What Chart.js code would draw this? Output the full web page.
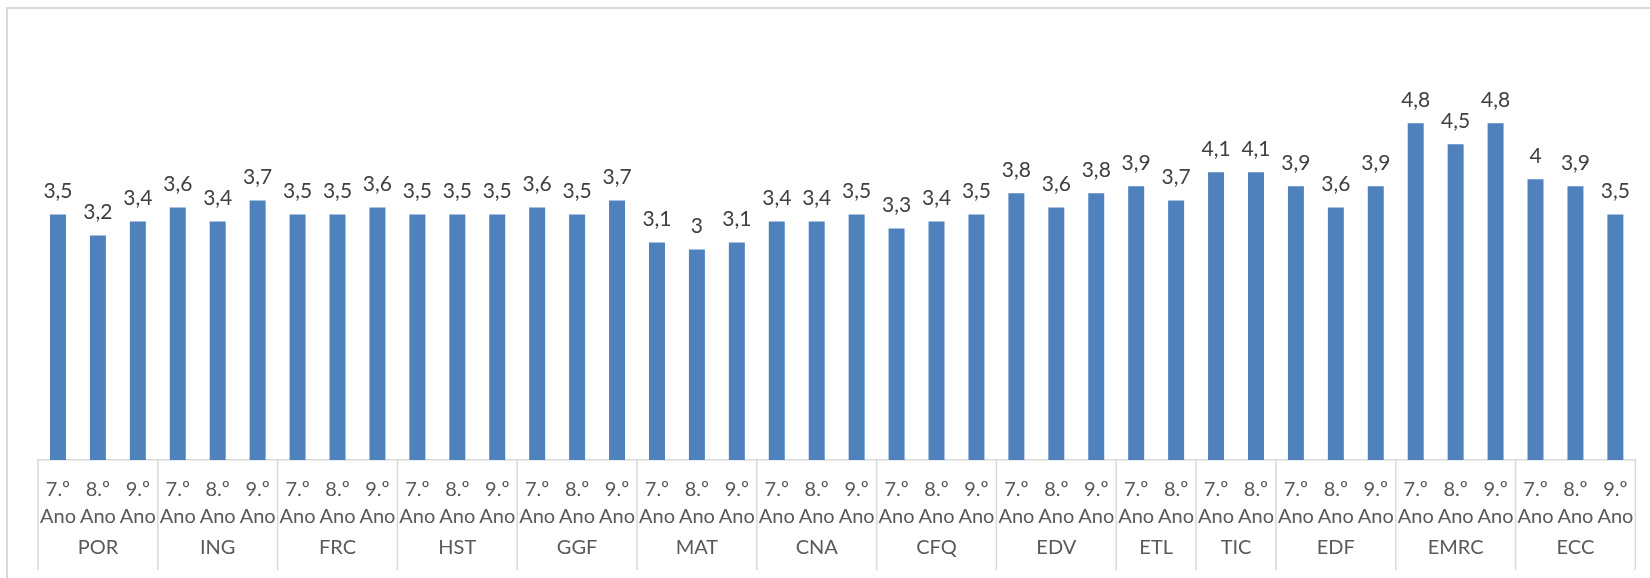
<!DOCTYPE html>
<html>
<head>
<meta charset="utf-8">
<script src="https://cdn.jsdelivr.net/npm/chart.js@4/dist/chart.umd.min.js"></script>
<style>
    html, body { margin: 0; padding: 0; background: #fff; overflow: hidden; }
    #frame { position: absolute; left: 6px; top: 7px; width: 1700px; height: 700px; border: 2px solid #d9d9d9; }
    #wrap { position: absolute; left: 0; top: 0; width: 1650px; height: 578px; }
</style>
</head>
<body>
<div id="frame"></div>
<div id="wrap"><canvas id="gradesChart"></canvas></div>
<script>
const subjects = ["POR", "ING", "FRC", "HST", "GGF", "MAT", "CNA", "CFQ", "EDV", "ETL", "TIC", "EDF", "EMRC", "ECC"];
const yearsPerSubject = [3, 3, 3, 3, 3, 3, 3, 3, 3, 2, 2, 3, 3, 3];
const yearLabels = [["7.º", "Ano"], ["8.º", "Ano"], ["9.º", "Ano"]];
const averages = [
    3.5, 3.2, 3.4,
    3.6, 3.4, 3.7,
    3.5, 3.5, 3.6,
    3.5, 3.5, 3.5,
    3.6, 3.5, 3.7,
    3.1, 3.0, 3.1,
    3.4, 3.4, 3.5,
    3.3, 3.4, 3.5,
    3.8, 3.6, 3.8,
    3.9, 3.7,
    4.1, 4.1,
    3.9, 3.6, 3.9,
    4.8, 4.5, 4.8,
    4.0, 3.9, 3.5
];

const labels = [];
yearsPerSubject.forEach(n => {
    for (let i = 0; i < n; i++) labels.push(yearLabels[i]);
});

const fontFamily = "Lato, 'Open Sans', sans-serif";

// value labels above each bar
const valueLabels = {
    id: "valueLabels",
    afterDatasetsDraw(chart) {
        const ctx = chart.ctx;
        const meta = chart.getDatasetMeta(0);
        ctx.save();
        ctx.font = "21px " + fontFamily;
        ctx.fillStyle = "#404040";
        ctx.textAlign = "center";
        ctx.textBaseline = "middle";
        meta.data.forEach((bar, i) => {
            ctx.fillText(String(averages[i]).replace(".", ","), bar.x, bar.y - 23);
        });
        ctx.restore();
    }
};

// subject row under the year labels, with separators
const subjectAxis = {
    id: "subjectAxis",
    afterDraw(chart) {
        const ctx = chart.ctx;
        const x = chart.scales.x;
        const half = (x.getPixelForValue(1) - x.getPixelForValue(0)) / 2;
        const top = chart.chartArea.bottom;
        ctx.save();
        ctx.strokeStyle = "#d9d9d9";
        ctx.lineWidth = 1.5;
        ctx.font = "20px " + fontFamily;
        ctx.fillStyle = "#595959";
        ctx.textAlign = "center";
        ctx.textBaseline = "middle";
        let start = 0;
        subjects.forEach((name, g) => {
            const end = start + yearsPerSubject[g] - 1;
            const left = x.getPixelForValue(start) - half;
            const right = x.getPixelForValue(end) + half;
            ctx.beginPath();
            ctx.moveTo(left, top);
            ctx.lineTo(left, 570);
            ctx.stroke();
            if (g === subjects.length - 1) {
                ctx.beginPath();
                ctx.moveTo(right, top);
                ctx.lineTo(right, 570);
                ctx.stroke();
            }
            ctx.fillText(name, (left + right) / 2, 548);
            start = end + 1;
        });
        ctx.restore();
    }
};

const barConfig = {
    type: "bar",
    data: {
        labels: labels,
        datasets: [{
            label: "Média",
            data: averages,
            backgroundColor: "#4f81bd",
            categoryPercentage: 1,
            barPercentage: 0.4,
        }]
    },
    options: {
        responsive: true,
        maintainAspectRatio: false,
        animation: false,
        layout: { padding: { left: 38, right: 9, top: 39, bottom: 31 } },
        plugins: {
            legend: { display: false },
            tooltip: { enabled: false },
        },
        scales: {
            x: {
                grid: { display: false, drawTicks: false },
                border: { display: true, color: "#d9d9d9", width: 1.5 },
                ticks: {
                    color: "#595959",
                    font: { family: fontFamily, size: 20, lineHeight: 1.35 },
                    padding: 16.5,
                    maxRotation: 0,
                    autoSkip: false,
                }
            },
            y: {
                display: false,
                min: 0,
                max: 6,
            }
        }
    },
    plugins: [valueLabels, subjectAxis]
};

new Chart(document.getElementById("gradesChart"), barConfig);
</script>
</body>
</html>
